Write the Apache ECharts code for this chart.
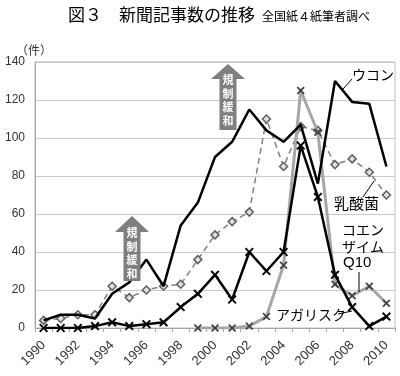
<!DOCTYPE html>
<html>
<head>
<meta charset="utf-8">
<script src="https://cdn.jsdelivr.net/npm/echarts@6/dist/echarts.min.js"></script>
<style>html,body{margin:0;padding:0;background:#fff;}#c{width:400px;height:376px;}</style>
</head>
<body>
<div id="c"></div>
<script>
var years = ['1990','1991','1992','1993','1994','1995','1996','1997','1998','1999','2000','2001','2002','2003','2004','2005','2006','2007','2008','2009','2010'];
var ukon = [4,7,7,5,18,24,36,22,54,66,90,98,115,104,98,107,76,130,119,118,85];
var nyusankin = [4,5,7,7,22,16,20,22,23,36,49,56,61,110,85,106,104,86,89,82,70];
var q10 = [null,null,null,null,null,null,null,null,null,0,0,0,1,6,33,125,103,23,17,22,13];
var agaricus = [0,0,0,1,3,1,2,3,11,18,28,15,40,30,40,96,69,28,11,1,6];

var JP = '"Noto Sans CJK JP", sans-serif';
var NUM = '"Liberation Sans", Arial, sans-serif';
var X = 'path://M1.5,0L5,3.5L8.5,0L10,1.5L6.5,5L10,8.5L8.5,10L5,6.5L1.5,10L0,8.5L3.5,5L0,1.5Z';

function arrow(cx, tipY, baseY, botY) {
  return {
    type: 'polygon', z: 20,
    shape: { points: [[cx, tipY], [cx + 17, baseY], [cx + 8.5, baseY], [cx + 8.5, botY], [cx - 8.5, botY], [cx - 8.5, baseY], [cx - 17, baseY]] },
    style: { fill: '#7f7f7f' }
  };
}
function vtext(cx, y0) {
  var chars = ['規','制','緩','和'];
  return chars.map(function (ch, i) {
    return { type: 'text', z: 21, x: cx, y: y0 + i * 13.5,
      style: { text: ch, fill: '#fff', font: 'bold 11px ' + JP, textAlign: 'center', textVerticalAlign: 'middle' } };
  });
}
function label(t, x, y, size) {
  return { type: 'text', z: 22, x: x, y: y,
    style: { text: t, fill: '#000', font: (size || 14) + 'px ' + JP, textVerticalAlign: 'middle' } };
}
function line(pts) {
  return { type: 'polyline', z: 22, shape: { points: pts }, style: { stroke: '#000', lineWidth: 1, fill: null } };
}

var chart = echarts.init(document.getElementById('c'));
var graphics = [
  { type: 'text', x: 68, y: 15, style: { text: '図３　新聞記事数の推移', fill: '#000', font: '17px ' + JP, textVerticalAlign: 'middle' } },
  { type: 'text', x: 262, y: 16, style: { text: '全国紙４紙筆者調べ', fill: '#000', font: '12px ' + JP, textVerticalAlign: 'middle' } },
  { type: 'text', x: 16, y: 50, style: { text: '（件）', fill: '#333', font: '12px ' + JP, textVerticalAlign: 'middle' } },
  arrow(132, 216, 232, 281),
  arrow(228, 64, 79, 130)
].concat(vtext(132, 233)).concat(vtext(228, 80)).concat([
  label('ウコン', 352, 75),
  line([[352, 79], [343, 89]]),
  label('乳酸菌', 334, 203, 15),
  line([[363, 197], [374, 181]]),
  label('コエン', 342, 230),
  label('ザイム', 342, 247),
  { type: 'text', z: 22, x: 343, y: 263, style: { text: 'Q10', fill: '#000', font: '15px ' + NUM, textVerticalAlign: 'middle' } },
  line([[359, 272], [359, 292]]),
  label('アガリスク', 276, 315),
  line([[338, 314], [352, 311]])
]);

chart.setOption({
  animation: false,
  grid: { left: 35, right: 5, top: 62, bottom: 48, show: true, borderColor: '#bfbfbf', borderWidth: 1 },
  xAxis: {
    type: 'category', data: years, boundaryGap: true,
    axisLine: { lineStyle: { color: '#a6a6a6' } },
    axisTick: { show: true, interval: 0, length: 4, lineStyle: { color: '#a6a6a6' } },
    axisLabel: { interval: 1, rotate: 45, fontSize: 13, color: '#333', fontFamily: NUM, margin: 15 }
  },
  yAxis: {
    type: 'value', min: 0, max: 140, interval: 20,
    axisLine: { show: true, lineStyle: { color: '#a6a6a6' } },
    axisTick: { show: false },
    splitLine: { lineStyle: { color: '#c8c8c8' } },
    axisLabel: { fontSize: 12, color: '#333', fontFamily: NUM, margin: 10 }
  },
  series: [
    { name: '乳酸菌', type: 'line', data: nyusankin, z: 3,
      lineStyle: { color: '#808080', width: 1.5, type: [6, 4] },
      symbol: 'diamond', symbolSize: 8, showAllSymbol: true,
      itemStyle: { color: '#e0e0e0', borderColor: '#606060', borderWidth: 1.5 } },
    { name: 'コエンザイムQ10', type: 'line', data: q10, z: 4,
      lineStyle: { color: '#a6a6a6', width: 3 },
      symbol: X, symbolSize: 8, showAllSymbol: true,
      itemStyle: { color: '#404040' } },
    { name: 'アガリスク', type: 'line', data: agaricus, z: 5,
      lineStyle: { color: '#000', width: 2.5 },
      symbol: X, symbolSize: 9, showAllSymbol: true,
      itemStyle: { color: '#000' } },
    { name: 'ウコン', type: 'line', data: ukon, z: 6,
      lineStyle: { color: '#000', width: 2.5 },
      showSymbol: false, symbol: 'none' }
  ],
  graphic: graphics
});
</script>
</body>
</html>
